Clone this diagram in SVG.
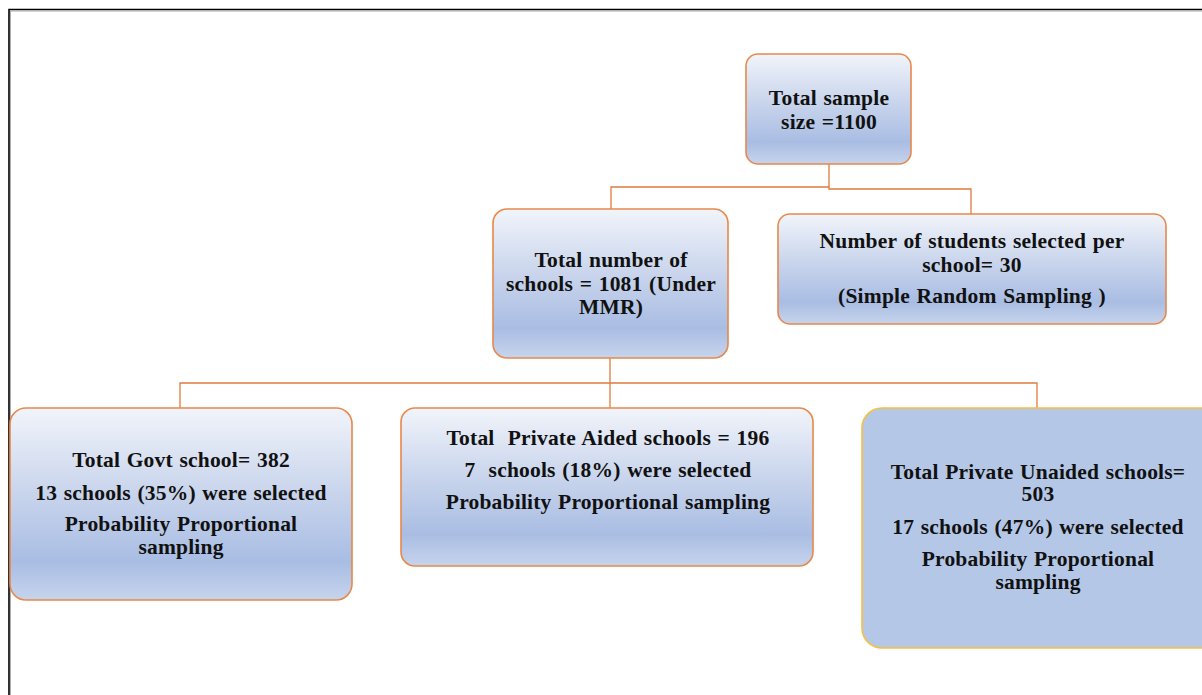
<svg xmlns="http://www.w3.org/2000/svg" width="1202" height="695" viewBox="0 0 1202 695">
<defs>
<linearGradient id="g" x1="0" y1="0" x2="0" y2="1">
<stop offset="0" stop-color="#f1f4fa"/>
<stop offset="0.45" stop-color="#c8d4ec"/>
<stop offset="0.8" stop-color="#a9bde3"/>
<stop offset="1" stop-color="#c6d4ed"/>
</linearGradient>
</defs>
<style>
.box{fill:url(#g);stroke:#e8884a;stroke-width:1.6}
.flat{fill:#b4c7e7;stroke:#f5c040;stroke-width:1.6}
.t{font-family:"Liberation Serif","Times New Roman",serif;font-weight:bold;font-size:21.5px;letter-spacing:0.2px;word-spacing:1px;fill:#111;text-anchor:middle}
.c{fill:none;stroke:#e07b3c;stroke-width:1.3}
</style>
<rect width="1202" height="695" fill="#fff"/>
<path d="M9,695 V9.5 H1202" fill="none" stroke="#000" stroke-width="1.6"/>
<path d="M10.5,695 V11 H1202" fill="none" stroke="#999" stroke-width="0.8"/>
<g id="connectors">
<path class="c" d="M829,164 V187 H611 V209"/>
<path class="c" d="M829,187 V189 H971 V214"/>
<path class="c" d="M610,358 V383 M180,408 V383 H1037 V408 M610,383 V408"/>
</g>
<g id="n_total">
<rect class="box" x="746" y="54" width="165" height="110" rx="12"/>
<text class="t" x="829" y="105">Total sample</text>
<text class="t" x="829" y="129">size =1100</text>
</g>
<g id="n_schools">
<rect class="box" x="493" y="209" width="235" height="149" rx="14"/>
<text class="t" x="611" y="267">Total number of</text>
<text class="t" x="611" y="291">schools = 1081 (Under</text>
<text class="t" x="611" y="314">MMR)</text>
</g>
<g id="n_students">
<rect class="box" x="778" y="214" width="388" height="110" rx="12"/>
<text class="t" x="972" y="248">Number of students selected per</text>
<text class="t" x="972" y="272">school= 30</text>
<text class="t" x="972" y="303">(Simple Random Sampling )</text>
</g>
<g id="n_govt">
<rect class="box" x="10" y="408" width="342" height="192" rx="16"/>
<text class="t" x="181" y="467">Total Govt school= 382</text>
<text class="t" x="181" y="500">13 schools (35%) were selected</text>
<text class="t" x="181" y="531">Probability Proportional</text>
<text class="t" x="181" y="554">sampling</text>
</g>
<g id="n_aided">
<rect class="box" x="401" y="408" width="412" height="158" rx="14"/>
<text class="t" x="608" y="445" xml:space="preserve">Total  Private Aided schools = 196</text>
<text class="t" x="608" y="477" xml:space="preserve">7  schools (18%) were selected</text>
<text class="t" x="608" y="509">Probability Proportional sampling</text>
</g>
<g id="n_unaided">
<rect class="flat" x="862" y="408" width="360" height="240" rx="20"/>
<text class="t" x="1038" y="479">Total Private Unaided schools=</text>
<text class="t" x="1038" y="501">503</text>
<text class="t" x="1038" y="534">17 schools (47%) were selected</text>
<text class="t" x="1038" y="566">Probability Proportional</text>
<text class="t" x="1038" y="589">sampling</text>
</g>
</svg>
